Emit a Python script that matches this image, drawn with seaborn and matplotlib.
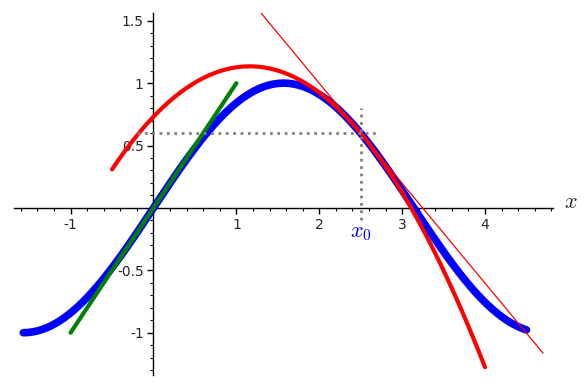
import numpy as np
import pandas as pd
import matplotlib
matplotlib.use("Agg")
import matplotlib.pyplot as plt
import matplotlib.transforms as mtransforms
from matplotlib.ticker import FixedLocator, MultipleLocator, FixedFormatter
import seaborn as sns

# ---- data / parameters ----
x0 = 2.5                              # expansion point
sin_range = [-np.pi / 2, 4.5]         # blue: sin(x)
taylor_range = [-0.5, 4.0]            # red thick: 2nd order Taylor at x0
tangent0_range = [-1.0, 1.0]          # green: tangent at 0 (y = x)
tangent_x0_range = [1.3, 4.7]         # thin red: tangent at x0
hguide_x = [-0.2, 2.7]                # dotted horizontal guide at sin(x0)
vguide_y = [-0.1, 0.8]                # dotted vertical guide at x0
xticks = [-1, 1, 2, 3, 4]
xticklabels = ["-1", "1", "2", "3", "4"]
yticks = [-1, -0.5, 0.5, 1, 1.5]
yticklabels = ["-1", "-0.5", "0.5", "1", "1.5"]
xlim = [-1.683, 4.82]
ylim = [-1.339, 1.562]

# ---- curves ----
xs = np.linspace(*sin_range, 400)
df_sin = pd.DataFrame({"x": xs, "y": np.sin(xs)})
xt = np.linspace(*taylor_range, 400)
df_taylor = pd.DataFrame({"x": xt, "y": np.sin(x0) + np.cos(x0) * (xt - x0)
                          - np.sin(x0) / 2 * (xt - x0) ** 2})
xg = np.array(tangent0_range)
df_tan0 = pd.DataFrame({"x": xg, "y": xg})
xl = np.array(tangent_x0_range)
df_tanx0 = pd.DataFrame({"x": xl, "y": np.sin(x0) + np.cos(x0) * (xl - x0)})
y0 = np.sin(x0)

sns.set_style("white")
plt.rcParams["font.family"] = ["DejaVu Sans"]
plt.rcParams["mathtext.fontset"] = "cm"

W, H = 587, 387
fig = plt.figure(figsize=(W / 100, H / 100), dpi=100)
ax = fig.add_axes([14 / W, (H - 375) / H, (553 - 14) / W, (375 - 13) / H])

sns.lineplot(data=df_sin, x="x", y="y", ax=ax, color="blue", lw=5.5, sort=False, zorder=3)
sns.lineplot(data=df_tan0, x="x", y="y", ax=ax, color="green", lw=3, sort=False, zorder=4)
sns.lineplot(data=df_taylor, x="x", y="y", ax=ax, color="red", lw=3, sort=False, zorder=5)
sns.lineplot(data=df_tanx0, x="x", y="y", ax=ax, color="red", lw=0.9, sort=False, zorder=6)
ax.plot(hguide_x, [y0, y0], color="gray", lw=2, ls=":", zorder=7)
ax.plot([x0, x0], vguide_y, color="gray", lw=2, ls=":", zorder=7)

ax.text(x0, -0.2, r"$x_0$", color="blue", fontsize=16, ha="center", va="center")

ax.set_xlim(*xlim)
ax.set_ylim(*ylim)
ax.set_xlabel("")
ax.set_ylabel("")

for s in ["top", "right"]:
    ax.spines[s].set_visible(False)
ax.spines["left"].set_position(("data", 0))
ax.spines["bottom"].set_position(("data", 0))
for s in ["left", "bottom"]:
    ax.spines[s].set_color("black")
    ax.spines[s].set_linewidth(1)

ax.xaxis.set_major_locator(FixedLocator(xticks))
ax.xaxis.set_major_formatter(FixedFormatter(xticklabels))
ax.yaxis.set_major_locator(FixedLocator(yticks))
ax.yaxis.set_major_formatter(FixedFormatter(yticklabels))
ax.xaxis.set_minor_locator(MultipleLocator(0.2))
ax.yaxis.set_minor_locator(MultipleLocator(0.1))
ax.tick_params(which="major", direction="out", length=4, width=1, color="black",
               labelsize=10, pad=3, bottom=True, left=True)
ax.tick_params(which="minor", direction="out", length=2.2, width=0.8, color="black",
               bottom=True, left=True)

trans = mtransforms.blended_transform_factory(ax.transAxes, ax.transData)
ax.text(1.02, 0.05, r"$x$", transform=trans, fontsize=16, ha="left", va="center")

fig.savefig("out.png", dpi=100)
